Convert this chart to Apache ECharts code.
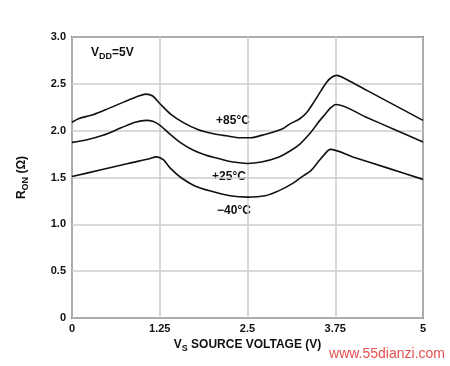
<!DOCTYPE html>
<html>
<head>
<meta charset="utf-8">
<script src="https://cdn.jsdelivr.net/npm/echarts@6/dist/echarts.min.js"></script>
<style>
  html, body { margin: 0; padding: 0; background: #fff; }
  #main { width: 450px; height: 366px; }
</style>
</head>
<body>
<div id="main"></div>
<script>
// R_ON vs V_S, VDD = 5V
const xTicks = [0, 1.25, 2.5, 3.75, 5]
const yTicks = [0, 0.5, 1.0, 1.5, 2.0, 2.5, 3.0]

const r85 = [[0, 2.09], [0.1, 2.13], [0.2, 2.15], [0.3, 2.17], [0.5, 2.23], [0.75, 2.31], [0.95, 2.37], [1.05, 2.39], [1.15, 2.37], [1.25, 2.29], [1.4, 2.18], [1.6, 2.08], [1.8, 2.01], [2.0, 1.97], [2.2, 1.945], [2.4, 1.925], [2.55, 1.925], [2.7, 1.95], [2.85, 1.98], [3.0, 2.02], [3.1, 2.07], [3.25, 2.13], [3.35, 2.2], [3.45, 2.31], [3.55, 2.43], [3.63, 2.52], [3.7, 2.57], [3.77, 2.59], [3.85, 2.57], [4.2, 2.43], [4.6, 2.27], [5, 2.11]]
const r25 = [[0, 1.875], [0.2, 1.9], [0.44, 1.95], [0.7, 2.03], [0.9, 2.09], [1.06, 2.11], [1.15, 2.1], [1.25, 2.06], [1.4, 1.96], [1.55, 1.87], [1.73, 1.79], [1.9, 1.74], [2.1, 1.7], [2.3, 1.665], [2.5, 1.65], [2.7, 1.665], [2.92, 1.71], [3.1, 1.78], [3.25, 1.86], [3.4, 1.98], [3.5, 2.08], [3.6, 2.17], [3.68, 2.24], [3.76, 2.28], [4.2, 2.14], [4.6, 2.01], [5, 1.88]]
const rm40 = [[0, 1.51], [0.4, 1.58], [0.8, 1.65], [1.1, 1.7], [1.2, 1.72], [1.3, 1.69], [1.4, 1.6], [1.55, 1.5], [1.75, 1.41], [2.0, 1.35], [2.25, 1.305], [2.5, 1.29], [2.75, 1.305], [2.95, 1.36], [3.15, 1.44], [3.3, 1.52], [3.4, 1.57], [3.5, 1.66], [3.6, 1.75], [3.68, 1.8], [4.0, 1.72], [4.5, 1.6], [5, 1.48]]

const font = 'Liberation Sans, Arial, Helvetica, sans-serif'
const myChart = echarts.init(document.getElementById('main'))

function line (name, data) {
  return {
    name: name,
    type: 'line',
    data: data,
    smooth: 0.3,
    showSymbol: false,
    lineStyle: { color: '#111', width: 1.6 }
  }
}

// subscript text styles (axis names use color, graphic uses fill)
const richAxis = {
  v: { fontFamily: font, fontWeight: 'bold', fontSize: 12, color: '#111', lineHeight: 16 },
  s: { fontFamily: font, fontWeight: 'bold', fontSize: 9, color: '#111', lineHeight: 16, verticalAlign: 'bottom', padding: [5, 0, 0, 0] }
}

const options = {
  animation: false,
  grid: { left: 72, right: 27, top: 37, bottom: 48, show: true, borderColor: '#111', borderWidth: 1.5 },
  xAxis: {
    type: 'value',
    min: xTicks[0],
    max: xTicks[xTicks.length - 1],
    interval: 1.25,
    name: '{v|V}{s|S}{v| SOURCE VOLTAGE (V)}',
    nameLocation: 'middle',
    nameGap: 18,
    nameTextStyle: { rich: richAxis },
    axisLine: { show: false },
    axisTick: { show: false },
    axisLabel: { fontFamily: font, fontWeight: 'bold', fontSize: 11, color: '#111', margin: 5 },
    splitLine: { lineStyle: { color: '#cccccc', width: 1.5 } }
  },
  yAxis: {
    type: 'value',
    min: yTicks[0],
    max: yTicks[yTicks.length - 1],
    interval: 0.5,
    name: '{v|R}{s|ON}{v| (Ω)}',
    nameLocation: 'middle',
    nameGap: 42,
    nameRotate: 90,
    nameTextStyle: { rich: richAxis },
    axisLine: { show: false },
    axisTick: { show: false },
    axisLabel: {
      fontFamily: font, fontWeight: 'bold', fontSize: 11, color: '#111', margin: 6,
      formatter: v => (v === 0 ? '0' : v.toFixed(1))
    },
    splitLine: { lineStyle: { color: '#cccccc', width: 1.5 } }
  },
  graphic: [
    {
      type: 'text', left: 91, top: 47,
      style: {
        text: '{v|V}{s|DD}{v|=5V}',
        rich: {
          v: { fontFamily: font, fontWeight: 'bold', fontSize: 12, fill: '#111', lineHeight: 16 },
          s: { fontFamily: font, fontWeight: 'bold', fontSize: 9, fill: '#111', lineHeight: 16, verticalAlign: 'bottom', padding: [5, 0, 0, 0] }
        }
      }
    },
    { type: 'text', x: 233, y: 121, style: { text: '+85°C', font: 'bold 12px ' + font, fill: '#111', align: 'center', verticalAlign: 'middle' } },
    { type: 'text', x: 229, y: 177, style: { text: '+25°C', font: 'bold 12px ' + font, fill: '#111', align: 'center', verticalAlign: 'middle' } },
    { type: 'text', x: 234, y: 211, style: { text: '−40°C', font: 'bold 12px ' + font, fill: '#111', align: 'center', verticalAlign: 'middle' } },
    { type: 'text', x: 445, y: 354, style: { text: 'www.55dianzi.com', font: '14px ' + font, fill: '#e03030', align: 'right', verticalAlign: 'middle', opacity: 0.85 } }
  ],
  series: [
    line('+85°C', r85),
    line('+25°C', r25),
    line('−40°C', rm40)
  ]
}
myChart.setOption(options)
</script>
</body>
</html>
